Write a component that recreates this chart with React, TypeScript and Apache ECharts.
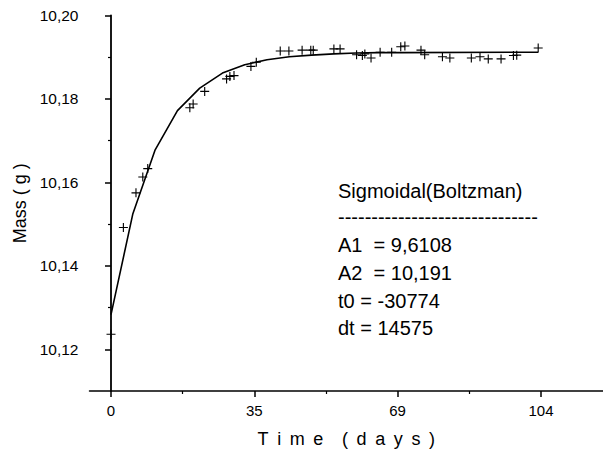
import React, { useEffect, useRef } from "react";
import * as echarts from "echarts";

// measured points: time (days) and mass (g)
const days = [0, 3.0, 6.05, 7.7, 8.9, 19.1, 19.9, 22.7, 28.0, 28.8, 29.8, 33.9, 35.2, 41.0, 43.1, 46.3, 48.4, 49.0, 54.0, 55.5, 59.5, 60.9, 61.5, 63.0, 65.2, 68.0, 70.2, 71.2, 75.1, 76.0, 80.3, 82.1, 87.3, 89.4, 91.4, 94.5, 97.5, 98.3, 103.5];
const mass = [10.1236, 10.1492, 10.1575, 10.1613, 10.1633, 10.1779, 10.1788, 10.1818, 10.1848, 10.1854, 10.1856, 10.1878, 10.1888, 10.1915, 10.1915, 10.1917, 10.1917, 10.1917, 10.192, 10.192, 10.1906, 10.1904, 10.1908, 10.1898, 10.1912, 10.1912, 10.1925, 10.1927, 10.1917, 10.1906, 10.1901, 10.1898, 10.1898, 10.1901, 10.1896, 10.1896, 10.1904, 10.1905, 10.1922];

// fitted Boltzmann curve vertices
const fitDays = [0, 5.3, 10.7, 16.1, 21.5, 27.0, 32.4, 37.8, 43.2, 48.6, 54.0, 59.4, 64.8, 70.2, 103.5];
const fitMass = [10.1283, 10.1525, 10.1678, 10.1772, 10.1826, 10.1862, 10.1882, 10.1894, 10.1901, 10.1905, 10.1908, 10.191, 10.1911, 10.1911, 10.1912];

// axis ticks
const xMajor = [0, 34.72, 69.44, 104.17];
const xMinor = [17.36, 52.08, 86.81];
const yMajor = [10.12, 10.14, 10.16, 10.18, 10.2];
const yMinor = [10.13, 10.15, 10.17, 10.19];

const fitLines = [
  "Sigmoidal(Boltzman)",
  "------------------------------",
  "A1  = 9,6108",
  "A2  = 10,191",
  "t0 = -30774",
  "dt = 14575",
];

const FONT = '"Liberation Sans", Arial, Helvetica, sans-serif';
const PLUS = "path://M3.5,0h1v3.5h3.5v1h-3.5v3.5h-1v-3.5h-3.5v-1h3.5z";

export default function App() {
  const ref = useRef<HTMLDivElement>(null);
  useEffect(() => {
    if (!ref.current) return;
    const chart = echarts.init(ref.current, undefined, { renderer: "svg" });
    const xMin = -5.21;
    const xMax = 119.2;
    const yMin = 10.11;
    const yMax = 10.2;
    const black = "#000";
    const lineYs = [191, 217, 245, 273, 301, 328];
    chart.setOption({
      animation: false,
      backgroundColor: "#fff",
      grid: { left: 89.5, right: 0, top: 15.5, bottom: 64, containLabel: false },
      xAxis: [
        {
          type: "value",
          min: xMin,
          max: xMax,
          position: "bottom",
          axisLine: { show: true, lineStyle: { color: black, width: 1.5 } },
          axisTick: { show: true, customValues: xMajor, length: 6, lineStyle: { color: black, width: 1.5 } },
          axisLabel: {
            customValues: xMajor,
            formatter: (v: number) => String(Math.round(v)),
            color: black,
            fontSize: 15,
            fontFamily: FONT,
            margin: 12,
          },
          splitLine: { show: false },
          name: "T\u2009 i\u2009 m\u2009 e\u2009   (\u2009 d\u2009 a\u2009 y\u2009 s\u2009 )",
          nameLocation: "middle",
          nameGap: 39,
          nameTextStyle: { color: black, fontSize: 18, fontFamily: FONT },
        },
        {
          type: "value",
          min: xMin,
          max: xMax,
          position: "bottom",
          axisLine: { show: false },
          axisTick: { show: true, customValues: xMinor, length: 3, lineStyle: { color: black, width: 1.2 } },
          axisLabel: { show: false },
          splitLine: { show: false },
        },
      ],
      yAxis: [
        {
          type: "value",
          min: yMin,
          max: yMax,
          position: "left",
          axisLine: { show: true, lineStyle: { color: black, width: 1.8 } },
          axisTick: { show: true, customValues: yMajor, length: 6, lineStyle: { color: black, width: 1.5 } },
          axisLabel: {
            customValues: yMajor,
            formatter: (v: number) => v.toFixed(2).replace(".", ","),
            color: black,
            fontSize: 15.5,
            fontFamily: FONT,
            margin: 11,
          },
          splitLine: { show: false },
          name: "Mass ( g )",
          nameLocation: "middle",
          nameGap: 58,
          nameTextStyle: { color: black, fontSize: 18, fontFamily: FONT },
        },
        {
          type: "value",
          min: yMin,
          max: yMax,
          position: "left",
          axisLine: { show: false },
          axisTick: { show: true, customValues: yMinor, length: 3, lineStyle: { color: black, width: 1.2 } },
          axisLabel: { show: false },
          splitLine: { show: false },
        },
      ],
      series: [
        {
          type: "line",
          xAxisIndex: 0,
          yAxisIndex: 0,
          data: fitDays.map((d, i) => [d, fitMass[i]]),
          symbol: "none",
          lineStyle: { color: black, width: 1.6 },
          z: 2,
        },
        {
          type: "scatter",
          xAxisIndex: 0,
          yAxisIndex: 0,
          data: days.map((d, i) => [d, mass[i]]),
          symbol: PLUS,
          symbolSize: 9,
          itemStyle: { color: black, opacity: 1 },
          z: 3,
        },
      ],
      graphic: fitLines.map((t, i) => ({
        type: "text",
        x: 338,
        y: lineYs[i],
        style: {
          text: t,
          fill: black,
          font: `20px ${FONT}`,
          textVerticalAlign: "middle",
        },
      })),
    });
    return () => chart.dispose();
  }, []);
  return (
    <div
      ref={ref}
      style={{ position: "absolute", left: 0, top: 0, width: 603, height: 455, background: "#fff" }}
    />
  );
}
